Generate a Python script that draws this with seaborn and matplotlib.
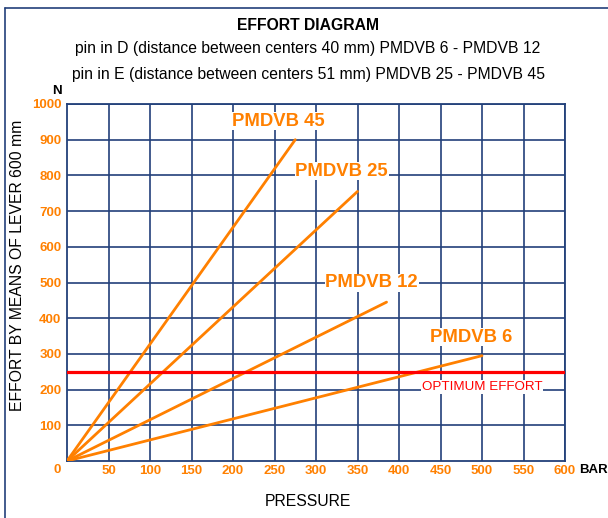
import matplotlib
matplotlib.use("Agg")
import matplotlib.pyplot as plt
import seaborn as sns
import pandas as pd
from matplotlib.lines import Line2D

# ---- data ----
models = ["PMDVB 6", "PMDVB 12", "PMDVB 25", "PMDVB 45"]
pressure_start = [0, 0, 0, 0]
effort_start = [0, 0, 0, 0]
pressure_end = [500, 385, 350, 275]
effort_end = [295, 445, 755, 900]
label_x = [487, 367, 331, 255]
label_y = [347, 499, 812, 952]
optimum_effort = 250
x_ticks = [50, 100, 150, 200, 250, 300, 350, 400, 450, 500, 550, 600]
y_ticks = [100, 200, 300, 400, 500, 600, 700, 800, 900, 1000]

rows = []
for m, x0, y0, x1, y1 in zip(models, pressure_start, effort_start, pressure_end, effort_end):
    rows.append({"model": m, "pressure": x0, "effort": y0})
    rows.append({"model": m, "pressure": x1, "effort": y1})
df = pd.DataFrame(rows)

sns.set_style("white")
plt.rcParams["font.family"] = ["Liberation Sans", "DejaVu Sans"]

ORANGE = "#FF8000"
NAVY = "#22407A"
RED = "#FF0000"

fig = plt.figure(figsize=(6.08, 5.18), dpi=100)
ax = fig.add_axes([67 / 608, 57 / 518, 498 / 608, 357 / 518])

ax.set_xlim(0, 600)
ax.set_ylim(0, 1000)
ax.set_xticks(x_ticks)
ax.set_yticks(y_ticks)
ax.grid(True, color=NAVY, lw=1.2)
ax.set_axisbelow(True)
for s in ax.spines.values():
    s.set_color(NAVY)
    s.set_linewidth(1.3)
    s.set_visible(True)

sns.lineplot(data=df, x="pressure", y="effort", hue="model", units="model",
             estimator=None, palette=[ORANGE] * 4, legend=False, lw=2.0,
             ax=ax, zorder=3)
ax.axhline(optimum_effort, color=RED, lw=2.3, zorder=4)

ax.tick_params(axis="both", length=0, labelsize=9.5, labelcolor=ORANGE)
ax.tick_params(axis="x", pad=3)
ax.tick_params(axis="y", pad=4)
for lab in ax.get_xticklabels() + ax.get_yticklabels():
    lab.set_fontweight("bold")
ax.set_xlabel("")
ax.set_ylabel("")

ax.text(-12, -25, "0", color=ORANGE, fontsize=9.5, fontweight="bold",
        ha="center", va="center", clip_on=False)

for m, lx, ly in zip(models, label_x, label_y):
    ax.text(lx, ly, m, color=ORANGE, fontsize=13.3, fontweight="bold",
            ha="center", va="center", zorder=5,
            bbox=dict(facecolor="white", edgecolor="none", pad=0.5))

ax.text(427.5, 207, "OPTIMUM EFFORT", color=RED, fontsize=9.6,
        ha="left", va="center", zorder=5,
        bbox=dict(facecolor="white", edgecolor="none", pad=0.5))

# ---- figure texts ----
fig.text(308 / 608, 1 - 25 / 518, "EFFORT DIAGRAM", ha="center", va="center",
         fontsize=11.3, fontweight="bold", color="black")
fig.text(308 / 608, 1 - 49 / 518,
         "pin in D (distance between centers 40 mm) PMDVB 6 - PMDVB 12",
         ha="center", va="center", fontsize=11.3, color="black")
fig.text(308 / 608, 1 - 75 / 518,
         "pin in E (distance between centers 51 mm) PMDVB 25 - PMDVB 45",
         ha="center", va="center", fontsize=11.3, color="black")
fig.text(57 / 608, 1 - 91 / 518, "N", ha="center", va="center",
         fontsize=9.5, fontweight="bold", color="black")
fig.text(579 / 608, 1 - 470 / 518, "BAR", ha="left", va="center",
         fontsize=9.5, fontweight="bold", color="black")
fig.text(308 / 608, 1 - 501 / 518, "PRESSURE", ha="center", va="center",
         fontsize=11.3, color="black")
fig.text(18 / 608, 1 - 265 / 518, "EFFORT BY MEANS OF LEVER 600 mm",
         ha="center", va="center", rotation=90, fontsize=11.3, color="black")

# frame lines (top and left only)
fig.add_artist(Line2D([5 / 608, 1.0], [1 - 8 / 518, 1 - 8 / 518],
                      transform=fig.transFigure, color=NAVY, lw=1.2))
fig.add_artist(Line2D([5 / 608, 5 / 608], [0.0, 1 - 8 / 518],
                      transform=fig.transFigure, color=NAVY, lw=1.2))

fig.savefig("out.png", dpi=100)
